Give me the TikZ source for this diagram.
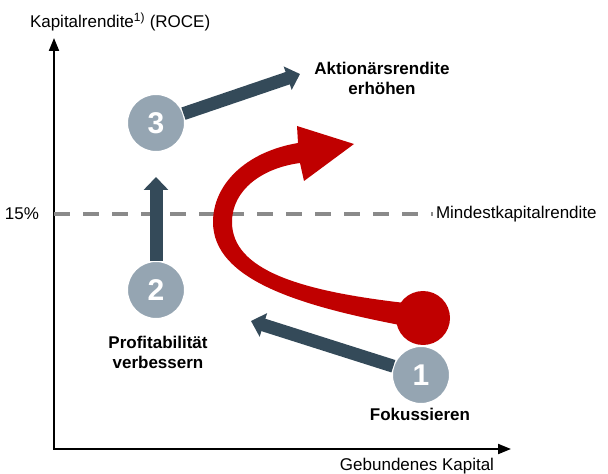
\documentclass[tikz,border=0pt]{standalone}
\usepackage{fontspec}
\setmainfont{Liberation Sans}
\usetikzlibrary{arrows.meta}
\definecolor{darkarrow}{HTML}{344A59}
\definecolor{circgray}{HTML}{95A5B2}
\definecolor{bigred}{HTML}{C00000}
\definecolor{dashgray}{HTML}{8A8A8A}
\begin{document}
\begin{tikzpicture}[x=1bp,y=-1bp,
  every node/.style={inner sep=0pt, outer sep=0pt, font=\fontsize{17bp}{20bp}\selectfont},
  axis/.style={line width=2bp, {Triangle[length=13bp,width=10bp]}-{Triangle[length=13bp,width=10bp]}},
  stepcircle/.style={circle, fill=circgray, draw=white, line width=2bp, minimum size=58bp, text=white, font=\fontsize{30bp}{30bp}\selectfont\bfseries},
  darrow/.style={draw=darkarrow, line width=13bp, -{Triangle[length=13bp,width=24bp]}},
  blabel/.style={font=\fontsize{17bp}{20bp}\selectfont\bfseries, align=center},
  minline/.style={draw=dashgray, line width=4bp, dash pattern=on 16bp off 13bp}
  ]
\useasboundingbox (0,0) rectangle (608,474);

% axes
\coordinate (origin) at (54,449);
\coordinate (ytip) at (54,38);
\coordinate (xtip) at (511,449);
\draw[axis] (ytip) -- (origin) -- (xtip);

% labels
\node[anchor=west] (ylab) at (30,22) {Kapitalrendite\textsuperscript{1)} (ROCE)};
\node[anchor=east] (pct) at (39,214) {15\%};
\node[anchor=west] (mlab) at (436,214) {Mindestkapitalrendite};
\node (xlab) at (417,466) {Gebundenes Kapital};

% minimum return line
\coordinate (dstart) at (54,214);
\draw[minline] (dstart) -- ([xshift=-3bp]mlab.west);

% red curved arrow
\fill[bigred] (405,326) .. controls (300,306) and (213,280) .. (213,222)
  .. controls (213,185) and (245,152) .. (298,143)
  -- (297,126) -- (354,144) -- (304,181) -- (300,163)
  .. controls (262,168) and (232,190) .. (232,222)
  .. controls (232,270) and (300,291) .. (405,303) -- cycle;
\node[circle, fill=bigred, minimum size=54bp] (blob) at (423,318) {};

% step circles
\node[stepcircle] (c1) at (421,375) {1};
\node[stepcircle] (c2) at (156,290) {2};
\node[stepcircle] (c3) at (156,123) {3};

% arrow targets
\coordinate (t1) at (251,321);
\coordinate (t2) at (156,177);
\coordinate (t3) at (300,74);
\draw[darrow] (c1) -- (t1);
\draw[darrow] (c2) -- (t2);
\draw[darrow] (c3) -- (t3);

% step labels
\node[blabel] (l1) at (420,414) {Fokussieren};
\node[blabel] (l2) at (158,352) {Profitabilität\\verbessern};
\node[blabel] (l3) at (382,78) {Aktionärsrendite\\erhöhen};
\end{tikzpicture}
\end{document}
